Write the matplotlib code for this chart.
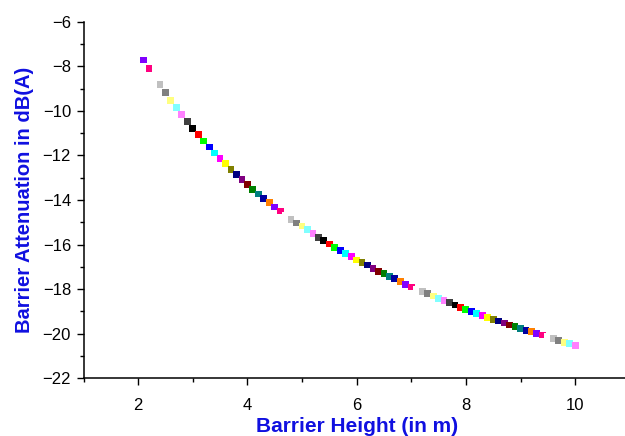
import matplotlib
matplotlib.use("Agg")
import matplotlib.pyplot as plt
from matplotlib.ticker import MultipleLocator

# Barrier height (m) and attenuation (dB(A))
barrier_height = [
    2.1, 2.2, 2.3, 2.4, 2.5, 2.6, 2.7, 2.8, 2.9, 3.0,
    3.1, 3.2, 3.3, 3.4, 3.5, 3.6, 3.7, 3.8, 3.9, 4.0,
    4.1, 4.2, 4.3, 4.4, 4.5, 4.6, 4.7, 4.8, 4.9, 5.0,
    5.1, 5.2, 5.3, 5.4, 5.5, 5.6, 5.7, 5.8, 5.9, 6.0,
    6.1, 6.2, 6.3, 6.4, 6.5, 6.6, 6.7, 6.8, 6.9, 7.0,
    7.1, 7.2, 7.3, 7.4, 7.5, 7.6, 7.7, 7.8, 7.9, 8.0,
    8.1, 8.2, 8.3, 8.4, 8.5, 8.6, 8.7, 8.8, 8.9, 9.0,
    9.1, 9.2, 9.3, 9.4, 9.5, 9.6, 9.7, 9.8, 9.9, 10.0,
]
attenuation = [
    -7.72, -8.09, -8.45, -8.81, -9.17, -9.52, -9.86, -10.17, -10.47, -10.78,
    -11.07, -11.35, -11.62, -11.89, -12.13, -12.38, -12.62, -12.86, -13.09, -13.31,
    -13.52, -13.73, -13.94, -14.12, -14.31, -14.49, -14.68, -14.86, -15.03, -15.17,
    -15.34, -15.52, -15.67, -15.83, -15.97, -16.12, -16.27, -16.40, -16.54, -16.69,
    -16.81, -16.92, -17.06, -17.19, -17.31, -17.43, -17.54, -17.66, -17.78, -17.90,
    -18.00, -18.09, -18.21, -18.31, -18.42, -18.51, -18.61, -18.71, -18.81, -18.91,
    -19.00, -19.09, -19.18, -19.27, -19.36, -19.43, -19.52, -19.61, -19.69, -19.77,
    -19.84, -19.91, -19.99, -20.06, -20.13, -20.20, -20.29, -20.38, -20.44, -20.51,
]

# Origin-style colour increment list
palette = [
    "#000000", "#FF0000", "#00FF00", "#0000FF", "#00FFFF", "#FF00FF",
    "#FFFF00", "#808000", "#000080", "#800080", "#800000", "#008000",
    "#008080", "#0000A0", "#FF8000", "#8000FF", "#FF0080", "#FFFFFF",
    "#C0C0C0", "#808080", "#FFFF80", "#80FFFF", "#FF80FF", "#404040",
]
start = 15  # first point is violet
colors = [palette[(start + i) % len(palette)] for i in range(len(barrier_height))]

plt.rcParams['font.family'] = ['Liberation Sans', 'DejaVu Sans']

fig = plt.figure(figsize=(6.25, 4.36), dpi=100)
ax = fig.add_axes([0.1336, 0.1323, 0.874, 0.818])

ax.scatter(barrier_height, attenuation, c=colors, marker='s', s=24,
           linewidths=0, zorder=3)

ax.set_xlim(1, 11)
ax.set_ylim(-22, -6)
ax.xaxis.set_major_locator(MultipleLocator(2))
ax.xaxis.set_minor_locator(MultipleLocator(1))
ax.yaxis.set_major_locator(MultipleLocator(2))
ax.yaxis.set_minor_locator(MultipleLocator(1))

for side in ['top', 'right']:
    ax.spines[side].set_visible(False)
for side in ['left', 'bottom']:
    ax.spines[side].set_linewidth(1.1)

ax.tick_params(which='major', direction='out', length=5, width=1.0,
               labelsize=12, pad=4)
ax.tick_params(which='minor', direction='out', length=3, width=1.0)
ax.tick_params(axis='x', which='major', pad=9)

label_color = '#1010E0'
ax.set_xlabel("Barrier Height (in m)", fontsize=15, fontweight='bold',
              color=label_color, labelpad=3)
ax.set_ylabel("Barrier Attenuation in dB(A)", fontsize=14.5, fontweight='bold',
              color=label_color, labelpad=6)

fig.savefig("out.png", dpi=100)
